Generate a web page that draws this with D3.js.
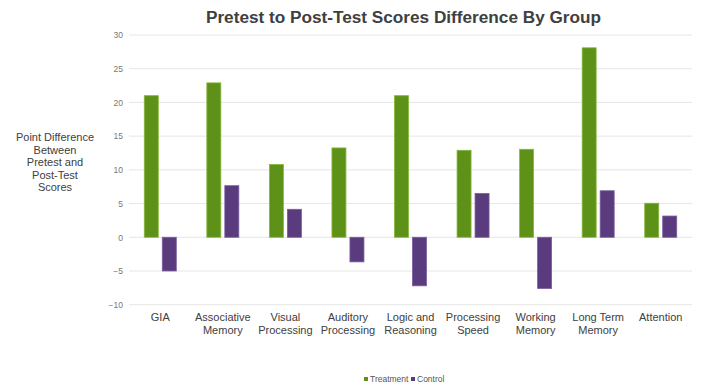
<!DOCTYPE html>
<html><head><meta charset="utf-8">
<script src="https://cdn.jsdelivr.net/npm/d3@7"></script>
<style>body{margin:0;background:#fff}svg{display:block;font-family:"Liberation Sans",Arial,sans-serif}</style>
</head><body><svg id="c" width="715" height="391"></svg>
<script>
const categories = [["GIA"],["Associative","Memory"],["Visual","Processing"],["Auditory","Processing"],["Logic and","Reasoning"],["Processing","Speed"],["Working","Memory"],["Long Term","Memory"],["Attention"]];
const seriesNames = ["Treatment","Control"];
const treatment = [21.0, 22.9, 10.8, 13.25, 21.0, 12.9, 13.05, 28.1, 5.05];
const control = [-5.0, 7.65, 4.15, -3.65, -7.2, 6.5, -7.6, 6.9, 3.15];
const yTicks = [-10,-5,0,5,10,15,20,25,30];
const colors = ["#5e9117","#5a3b7d"];
const strokes = ["#86b83a","#7a5ca0"];

const svg = d3.select("#c");
const x0 = d3.scaleBand().domain(d3.range(categories.length)).range([129,692]).padding(0);
const bw = x0.bandwidth();
const x1 = d3.scaleBand().domain(seriesNames).range([bw/2-16,bw/2+16]).paddingInner(0.222);
const y = d3.scaleLinear().domain([-10,30]).range([304.7,35]);

svg.append("text").attr("x",403.5).attr("y",23).attr("text-anchor","middle")
  .attr("font-size",17.2).attr("font-weight","bold").attr("fill","#404040")
  .text("Pretest to Post-Test Scores Difference By Group");

// grid
svg.append("g").selectAll("line").data(yTicks).join("line")
  .attr("x1",129).attr("x2",692).attr("y1",d=>y(d)).attr("y2",d=>y(d))
  .attr("stroke","#e6e6e6").attr("stroke-width",1);

// y axis
const ya = svg.append("g").attr("transform","translate(123,0)")
  .call(d3.axisLeft(y).tickValues(yTicks).tickSize(0).tickPadding(0));
ya.select(".domain").remove();
ya.selectAll("text").attr("font-size",8.5).attr("fill","#777").attr("font-family","Liberation Sans, Arial, sans-serif");

// y title
const yt = ["Point Difference","Between","Pretest and","Post-Test","Scores"];
svg.append("text").attr("x",55).attr("y",141).attr("text-anchor","middle")
  .attr("font-size",11).attr("fill","#404040")
  .selectAll("tspan").data(yt).join("tspan").attr("x",55).attr("dy",(d,i)=>i?12.5:0).text(d=>d);

// bars
const data = [treatment, control];
const g = svg.append("g");
categories.forEach((c,i)=>{
  seriesNames.forEach((s,j)=>{
    const v = data[j][i];
    g.append("rect").attr("x",x0(i)+x1(s)).attr("width",x1.bandwidth())
      .attr("y",y(Math.max(0,v))).attr("height",Math.abs(y(v)-y(0)))
      .attr("fill",colors[j]).attr("stroke",strokes[j]).attr("stroke-width",0.8);
  });
});

// category labels
const xl = svg.append("g");
categories.forEach((c,i)=>{
  const t = xl.append("text").attr("text-anchor","middle").attr("font-size",11).attr("fill","#404040")
    .attr("y",320.5);
  c.forEach((line,k)=>t.append("tspan").attr("x",x0(i)+bw/2).attr("dy",k?13:0).text(line));
});

// legend
const leg = svg.append("g").attr("font-size",8.5).attr("fill","#555");
const lx = [364,411];
seriesNames.forEach((s,j)=>{
  leg.append("rect").attr("x",lx[j]).attr("y",377).attr("width",4).attr("height",4).attr("fill",colors[j]);
  leg.append("text").attr("x",lx[j]+6).attr("y",382).text(s);
});
</script></body></html>
